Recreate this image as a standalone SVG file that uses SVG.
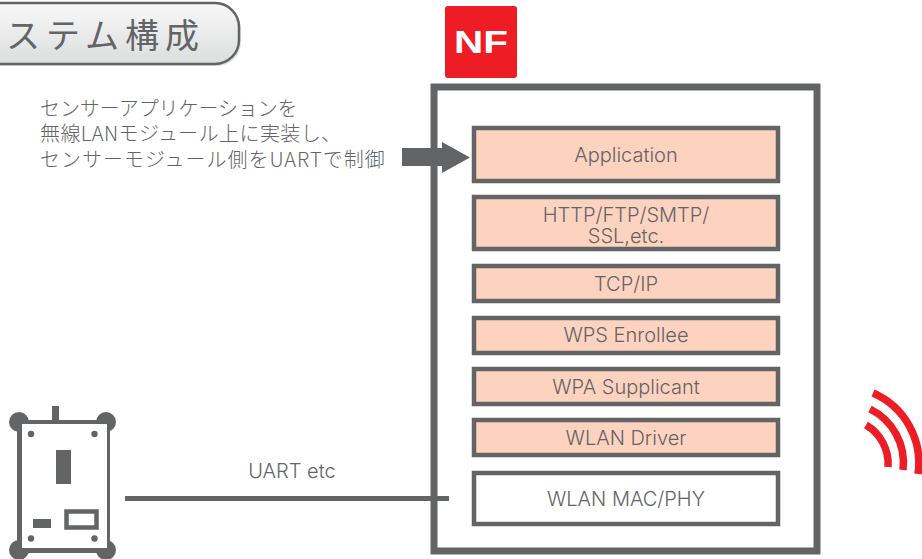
<svg xmlns="http://www.w3.org/2000/svg" width="922" height="559" viewBox="0 0 922 559">
<defs>
<linearGradient id="g" x1="0" y1="0" x2="0" y2="1"><stop offset="0" stop-color="#f8f8f8"/><stop offset="1" stop-color="#dcdddd"/></linearGradient>
</defs>
<style>
text{font-family:"Noto Sans CJK JP","Noto Sans",sans-serif;font-weight:300;fill:#636466}
.en{font-family:"Inter","Noto Sans CJK JP",sans-serif;font-size:20px;text-anchor:middle;font-weight:300}
.jp{font-size:20px;letter-spacing:-0.1px}
.box{fill:#fdd3c0;stroke:#636466;stroke-width:4.500}
.wh{fill:#fff;stroke:#636466;stroke-width:4.500}
.d{fill:#636466}
.arc{fill:none;stroke:#ee1c25;stroke-width:7.500}
</style>
<rect width="922" height="559" fill="#fff"/>
<g id="title">
<rect x="-29" y="5" width="270" height="61" rx="24" fill="#636466" opacity="0.2"/>
<rect x="-30" y="3" width="269" height="61" rx="24" fill="url(#g)" stroke="#636466" stroke-width="2.500"/>
<text x="6" y="48" style="font-size:34px;letter-spacing:6px;font-weight:400">ステム構成</text>
</g>
<g id="logo">
<rect x="445" y="6" width="72" height="72" rx="3" fill="#ee1c25"/>
<text x="454" y="53" textLength="54" lengthAdjust="spacingAndGlyphs" style="font-family:'Liberation Sans',sans-serif;font-weight:700;font-size:31px;fill:#fff">NF</text>
</g>
<g id="note">
<text class="jp" x="40" y="116">センサーアプリケーションを</text>
<text class="jp" x="40" y="141" style="letter-spacing:0.4px">無線LANモジュール上に実装し、</text>
<text class="jp" x="40" y="167" style="letter-spacing:1px">センサーモジュール側をUARTで制御</text>
</g>
<g id="frame"><rect x="434" y="87" width="383" height="464" fill="#fff" stroke="#636466" stroke-width="7"/></g>
<g id="connectors">
<path class="d" d="M402 148H442V142L470 157.500L442 173V166H402Z"/>
<rect class="d" x="125" y="496" width="324" height="5"/>
</g>
<g id="n-app"><rect class="box" x="474" y="128" width="304" height="53"/><text class="en" x="626" y="162">Application</text></g>
<g id="n-http"><rect class="box" x="474" y="197" width="304" height="52"/><text class="en" x="626" y="222">HTTP/FTP/SMTP/</text><text class="en" x="626" y="243">SSL,etc.</text></g>
<g id="n-tcp"><rect class="box" x="474" y="266" width="304" height="35"/><text class="en" x="626" y="291">TCP/IP</text></g>
<g id="n-wps"><rect class="box" x="474" y="318" width="304" height="35"/><text class="en" x="626" y="342">WPS Enrollee</text></g>
<g id="n-wpa"><rect class="box" x="474" y="369" width="304" height="35"/><text class="en" x="626" y="394">WPA Supplicant</text></g>
<g id="n-drv"><rect class="box" x="474" y="420" width="304" height="35"/><text class="en" x="626" y="445">WLAN Driver</text></g>
<g id="n-mac"><rect class="wh" x="474" y="473" width="304" height="51"/><text class="en" x="626" y="506">WLAN MAC/PHY</text></g>
<g id="uart-label"><text class="en" x="292" y="478">UART etc</text></g>
<g id="sensor">
<rect class="d" x="52" y="406" width="7" height="15"/>
<rect class="d" x="17" y="420" width="93" height="133"/>
<circle class="d" cx="19" cy="422" r="10"/><circle class="d" cx="106" cy="422" r="10"/>
<circle class="d" cx="19" cy="550" r="10"/><circle class="d" cx="106" cy="550" r="10"/>
<rect x="22" y="424" width="85" height="124" fill="#fff"/>
<circle class="d" cx="31" cy="434" r="3.200"/><circle class="d" cx="94.500" cy="434" r="3.200"/>
<circle class="d" cx="31" cy="538.500" r="3.200"/><circle class="d" cx="94.500" cy="538.500" r="3.200"/>
<rect class="d" x="56" y="450" width="15" height="34"/>
<rect class="d" x="33" y="519" width="18" height="9"/>
<rect x="66.500" y="511.500" width="30" height="16" fill="#fff" stroke="#636466" stroke-width="4.500"/>
</g>
<g id="waves">
<path class="arc" d="M866 425A45 45 0 0 1 888 467"/>
<path class="arc" d="M870 409A60 60 0 0 1 903 470"/>
<path class="arc" d="M873 393A76 76 0 0 1 918 474"/>
</g>
</svg>
